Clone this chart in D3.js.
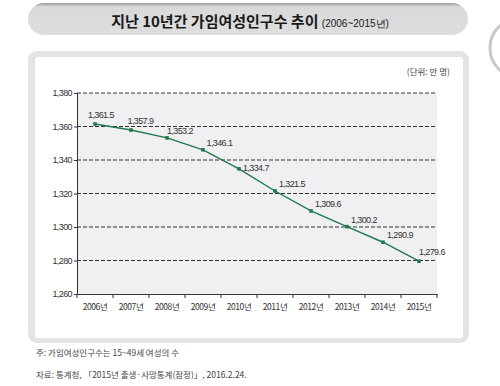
<!DOCTYPE html>
<html>
<head>
  <meta charset="utf-8">
  <title>지난 10년간 가임여성인구수 추이</title>
  <script src="https://d3js.org/d3.v7.min.js"></script>
  <style>
    body { margin: 0; background: #fff; font-family: 'Noto Sans CJK KR', 'Liberation Sans', sans-serif; }
    svg { display: block; }
    .tick text { font-family: 'Liberation Sans', sans-serif; letter-spacing: -0.6px; fill: #333; }
  </style>
</head>
<body>
  <div id="chart"></div>
  <script>
    // data
    const years = ["2006년", "2007년", "2008년", "2009년", "2010년", "2011년", "2012년", "2013년", "2014년", "2015년"];
    const population = [1361.5, 1357.9, 1353.2, 1346.1, 1334.7, 1321.5, 1309.6, 1300.2, 1290.9, 1279.6];
    const yTicks = [1260, 1280, 1300, 1320, 1340, 1360, 1380];

    const svg = d3.select("#chart").append("svg")
      .attr("width", 500).attr("height", 386);

    // decoration: partial circle at right edge
    svg.append("circle").attr("cx", 520).attr("cy", 48).attr("r", 30)
      .attr("fill", "none").attr("stroke", "#c8c8c8").attr("stroke-width", 3);

    // title pill
    const grad = svg.append("defs").append("linearGradient").attr("id", "pill")
      .attr("x1", 0).attr("y1", 0).attr("x2", 0).attr("y2", 1);
    grad.append("stop").attr("offset", "0").attr("stop-color", "#9a9a9a");
    grad.append("stop").attr("offset", "0.12").attr("stop-color", "#d9d9d9");
    grad.append("stop").attr("offset", "1").attr("stop-color", "#dedede");
    svg.append("rect").attr("x", 28).attr("y", 3).attr("width", 440).attr("height", 32)
      .attr("rx", 16).attr("fill", "url(#pill)");

    const title = svg.append("text").attr("x", 250).attr("y", 27)
      .attr("text-anchor", "middle").attr("fill", "#1a1a1a");
    title.append("tspan").attr("font-size", 15).attr("font-weight", "bold").text("지난 10년간 가임여성인구수 추이 ");
    title.append("tspan").attr("font-size", 10).attr("font-family", "'Liberation Sans', sans-serif").text("(2006~2015년)");

    // panel
    svg.append("rect").attr("x", 28).attr("y", 51).attr("width", 441).attr("height", 292)
      .attr("rx", 9).attr("fill", "#e4e4e6");
    svg.append("rect").attr("x", 35).attr("y", 57).attr("width", 428).attr("height", 281)
      .attr("rx", 3).attr("fill", "#fff");

    const margin = { left: 77, right: 437, top: 93, bottom: 294 };

    const x = d3.scaleBand().domain(years).range([margin.left, margin.right]);
    const y = d3.scaleLinear().domain([1260, 1380]).range([margin.bottom, margin.top]);

    svg.append("rect").attr("x", margin.left).attr("y", margin.top)
      .attr("width", margin.right - margin.left).attr("height", margin.bottom - margin.top)
      .attr("fill", "#f0f0f2");

    // gridlines
    svg.append("g").selectAll("line").data(yTicks.slice(1)).join("line")
      .attr("x1", margin.left).attr("x2", margin.right)
      .attr("y1", d => y(d)).attr("y2", d => y(d))
      .attr("stroke", "#333").attr("stroke-width", 1).attr("stroke-dasharray", "4,2");

    // y axis
    const yAxis = svg.append("g").attr("transform", `translate(${margin.left},0)`)
      .call(d3.axisLeft(y).tickValues(yTicks).tickFormat(d3.format(",")).tickSize(3).tickPadding(2));
    yAxis.select(".domain").attr("stroke", "#333");
    yAxis.selectAll(".tick line").attr("stroke", "#333");
    yAxis.selectAll(".tick text").attr("font-size", 9);

    // x axis
    const xAxis = svg.append("g").attr("transform", `translate(0,${margin.bottom})`)
      .call(d3.axisBottom(x).tickSize(0).tickPadding(10));
    xAxis.select(".domain").attr("stroke", "#333");
    xAxis.selectAll(".tick text").attr("font-size", 8.5)
      .style("font-family", "'Noto Sans CJK KR', sans-serif").style("letter-spacing", "-0.4px");
    xAxis.append("g").selectAll("line").data(years.concat(["end"])).join("line")
      .attr("x1", (d, i) => x.range()[0] + i * x.step()).attr("x2", (d, i) => x.range()[0] + i * x.step())
      .attr("y1", 0).attr("y2", 4).attr("stroke", "#333");

    // line
    const cx = d => x(d) + x.bandwidth() / 2;
    const line = d3.line().x((d, i) => cx(years[i])).y(d => y(d));
    svg.append("path").datum(population).attr("d", line)
      .attr("fill", "none").attr("stroke", "#1f7a4c").attr("stroke-width", 1.4);

    svg.append("g").selectAll("rect").data(population).join("rect")
      .attr("x", (d, i) => cx(years[i]) - 1.8).attr("y", d => y(d) - 1.8)
      .attr("width", 3.6).attr("height", 3.6).attr("fill", "#1f7a4c");

    // value labels: above the point early on, shifting to the right of it as the line steepens
    const last = population.length - 1;
    svg.append("g").selectAll("text").data(population).join("text")
      .attr("x", (d, i) => cx(years[i]) + (i === last ? 0 : Math.min(-7 + 3.5 * i, 4)))
      .attr("y", (d, i) => y(d) + (i < 2 || i === last ? -6 : i === 4 ? 2 : -4))
      .attr("font-size", 9).attr("fill", "#333").attr("letter-spacing", "-0.6")
      .attr("font-family", "'Liberation Sans', sans-serif")
      .text(d => d3.format(",.1f")(d));

    // unit
    svg.append("text").attr("x", 450).attr("y", 75).attr("text-anchor", "end")
      .attr("font-size", 8.5).attr("fill", "#444").text("(단위: 만 명)");

    // notes
    svg.append("text").attr("x", 36).attr("y", 356).attr("font-size", 8.5).attr("fill", "#444")
      .text("주: 가임여성인구수는 15~49세 여성의 수");
    svg.append("text").attr("x", 36).attr("y", 378).attr("font-size", 8.5).attr("fill", "#444")
      .text("자료: 통계청, 「2015년 출생·사망통계(잠정)」, 2016.2.24.");
  </script>
</body>
</html>
